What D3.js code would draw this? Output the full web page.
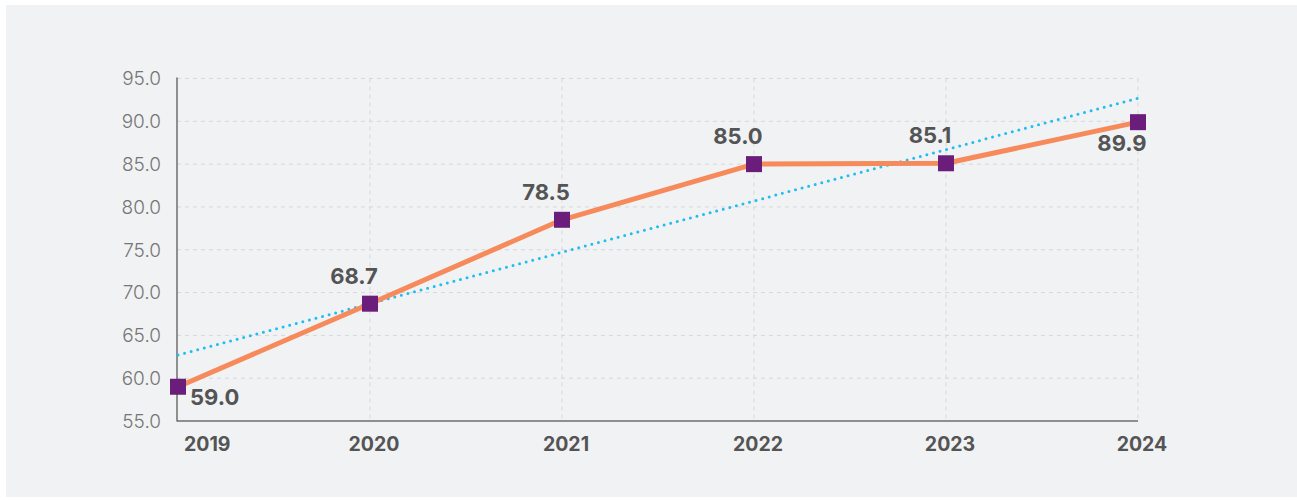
<!DOCTYPE html>
<html>
<head>
<meta charset="utf-8">
<script src="https://cdn.jsdelivr.net/npm/d3@7"></script>
<style>
  html, body { margin: 0; padding: 0; background: #ffffff; }
  svg { display: block; }
</style>
</head>
<body>
<svg id="chart" width="1297" height="500"></svg>
<script>
// ---- data ----
const years = ["2019", "2020", "2021", "2022", "2023", "2024"];
const values = [59.0, 68.7, 78.5, 85.0, 85.1, 89.9];
const valueLabels = ["59.0", "68.7", "78.5", "85.0", "85.1", "89.9"];
const yTicks = [55, 60, 65, 70, 75, 80, 85, 90, 95];
const trendYears = ["2019", "2024"];
const trendValues = [62.7, 92.7];

// ---- layout ----
const svg = d3.select("#chart");
svg.append("rect").attr("x", 6).attr("y", 5).attr("width", 1291).attr("height", 492).attr("fill", "#f1f2f4");

const x = d3.scalePoint().domain(years).range([178, 1138]);
const y = d3.scaleLinear().domain([55, 95]).range([421, 78.5]);
const x0 = 177, x1 = 1138;
const FONT = "Inter, Lato, sans-serif";

// horizontal grid
svg.append("g").selectAll("line").data(yTicks.slice(1)).join("line")
  .attr("x1", x0).attr("x2", x1)
  .attr("y1", d => y(d)).attr("y2", d => y(d))
  .attr("stroke", "#d6d7da").attr("stroke-width", 1).attr("stroke-dasharray", "4,4");

// vertical grid
svg.append("g").selectAll("line").data(years.slice(1)).join("line")
  .attr("x1", d => x(d)).attr("x2", d => x(d))
  .attr("y1", y(95)).attr("y2", y(55))
  .attr("stroke", "#d6d7da").attr("stroke-width", 1).attr("stroke-dasharray", "4,4");

// axes lines
svg.append("line").attr("x1", x0).attr("x2", x0).attr("y1", y(95) - 1).attr("y2", y(55) + 0.5)
  .attr("stroke", "#6e6e6e").attr("stroke-width", 1.5);
svg.append("line").attr("x1", x0).attr("x2", x1).attr("y1", y(55)).attr("y2", y(55))
  .attr("stroke", "#6e6e6e").attr("stroke-width", 1.5);

// y tick labels
svg.append("g").selectAll("text").data(yTicks).join("text")
  .attr("x", 161).attr("y", d => y(d)).attr("dy", "0.36em")
  .attr("text-anchor", "end")
  .attr("font-family", FONT).attr("font-size", 19).attr("font-weight", 300)
  .attr("fill", "#767676")
  .text(d => d3.format(".1f")(d));

// x tick labels
svg.append("g").selectAll("text").data(years).join("text")
  .attr("x", (d, i) => i === 0 ? x(d) + 6 : x(d) + 4)
  .attr("y", 451)
  .attr("text-anchor", (d, i) => i === 0 ? "start" : "middle")
  .attr("font-family", FONT).attr("font-size", 19.5).attr("font-weight", 700)
  .attr("fill", "#545454")
  .text(d => d);

// trend line (dotted)
const trend = trendYears.map((d, i) => [x(d), y(trendValues[i])]);
svg.append("path").attr("d", d3.line()(trend))
  .attr("fill", "none").attr("stroke", "#1fbdf0").attr("stroke-width", 3)
  .attr("stroke-linecap", "round").attr("stroke-dasharray", "0,6.8");

// main line
const pts = years.map((d, i) => [x(d), y(values[i])]);
svg.append("path").attr("d", d3.line()(pts))
  .attr("fill", "none").attr("stroke", "#f68a5b").attr("stroke-width", 5)
  .attr("stroke-linejoin", "round");

// markers
svg.append("g").selectAll("rect").data(pts).join("rect")
  .attr("x", d => d[0] - 8).attr("y", d => d[1] - 8)
  .attr("width", 16).attr("height", 16)
  .attr("fill", "#6a1d7a");

// value labels
const labelPlace = ["belowRight", "above", "above", "above", "above", "below"];
svg.append("g").selectAll("text").data(pts).join("text")
  .attr("x", (d, i) => labelPlace[i] === "belowRight" ? d[0] + 12 : d[0] - 16)
  .attr("y", (d, i) => labelPlace[i] === "belowRight" ? d[1] + 18 : labelPlace[i] === "below" ? d[1] + 29 : d[1] - 20)
  .attr("text-anchor", (d, i) => labelPlace[i] === "belowRight" ? "start" : "middle")
  .attr("font-family", FONT).attr("font-size", 22).attr("font-weight", 700)
  .attr("fill", "#545454")
  .text((d, i) => valueLabels[i]);
</script>
</body>
</html>
